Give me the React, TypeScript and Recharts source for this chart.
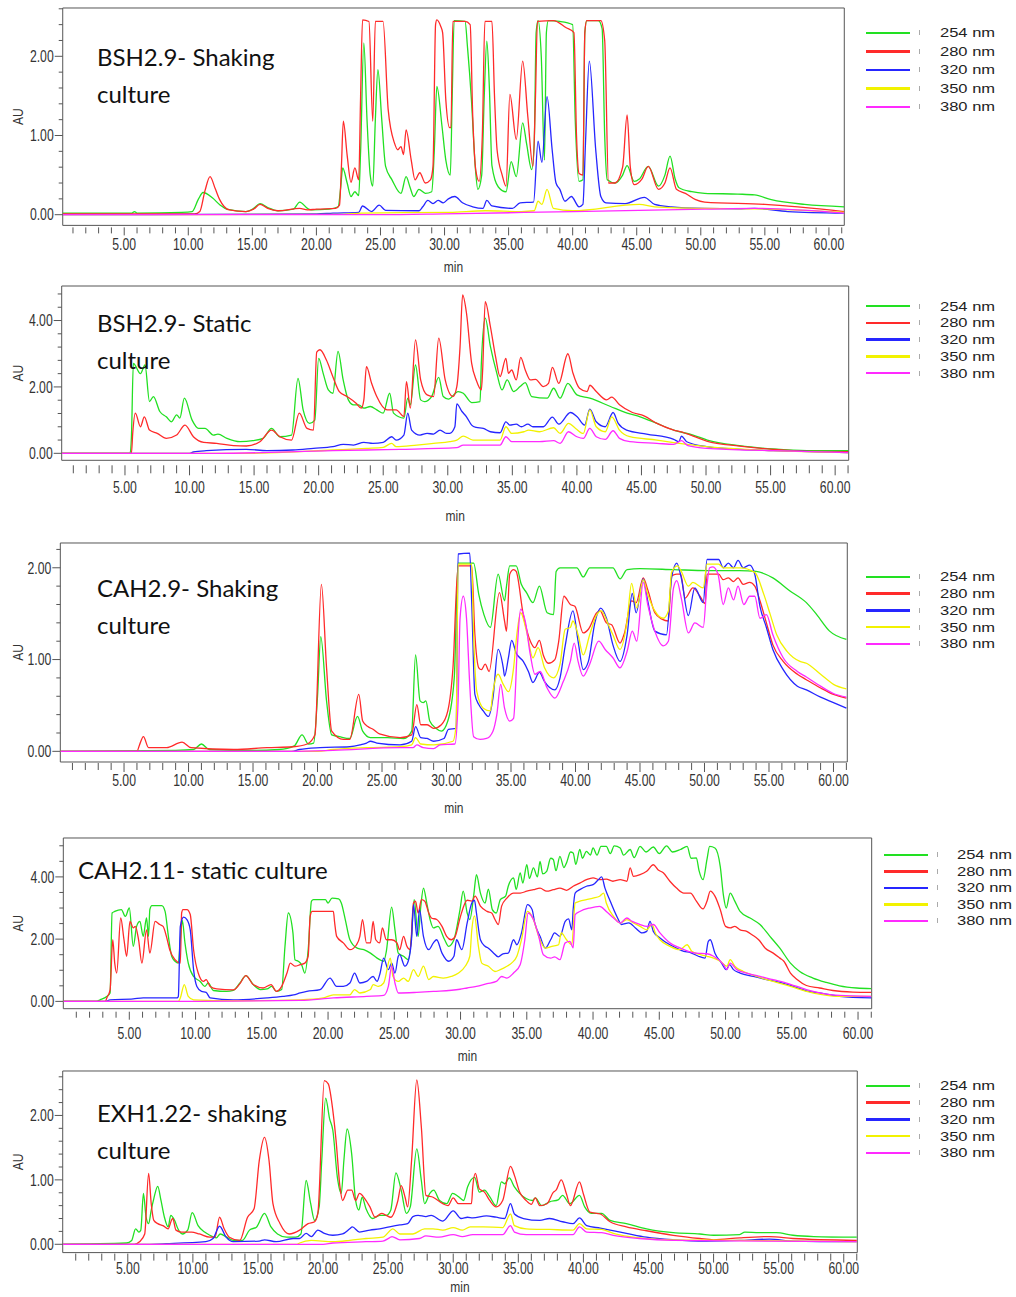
import React from 'react';
import { LineChart, Line, XAxis, YAxis, ReferenceArea, Legend } from 'recharts';

const wavelengths = ['254 nm', '280 nm', '320 nm', '350 nm', '380 nm'];
const traceColors = ['#22e022', '#ff2a2a', '#2626ff', '#f2f200', '#ff2aff'];

const minuteTicks = [
  1, 2, 3, 4, 5, 6, 7, 8, 9, 10, 11, 12, 13, 14, 15, 16, 17, 18, 19, 20, 21, 22, 23, 24, 25, 26, 27, 28, 29, 30,
  31, 32, 33, 34, 35, 36, 37, 38, 39, 40, 41, 42, 43, 44, 45, 46, 47, 48, 49, 50, 51, 52, 53, 54, 55, 56, 57, 58,
  59, 60, 61,
];
const auTicksFine = [0, 0.2, 0.4, 0.6, 0.8, 1, 1.2, 1.4, 1.6, 1.8, 2, 2.2, 2.4, 2.6];
const auTicksMid = [0, 0.2, 0.4, 0.6, 0.8, 1, 1.2, 1.4, 1.6, 1.8, 2, 2.2];
const auTicksWide = [0, 0.4, 0.8, 1.2, 1.6, 2, 2.4, 2.8, 3.2, 3.6, 4, 4.4, 4.8];
const auTicksHalf = [0, 0.5, 1, 1.5, 2, 2.5, 3, 3.5, 4, 4.5, 5];

// BSH2.9 shaking
const bshShake254 = [
  [0.2, 0.02], [5.6, 0.02], [5.8, 0.04], [6.0, 0.02], [9.5, 0.03], [10.3, 0.04], [10.8, 0.2], [11.15, 0.28],
  [11.9, 0.21], [12.5, 0.12], [13.0, 0.07], [14.5, 0.04], [15.1, 0.08], [15.6, 0.14], [16.2, 0.09], [17.0, 0.05],
  [18.2, 0.07], [18.7, 0.16], [19.3, 0.08], [19.6, 0.06], [21.0, 0.07], [21.7, 0.1], [21.9, 0.35], [22.05, 0.59],
  [22.4, 0.4], [22.7, 0.23], [23.0, 0.29], [23.3, 0.24], [23.45, 0.8], [23.7, 2.17], [23.95, 1.2], [24.2, 0.5],
  [24.4, 0.36], [24.6, 1.2], [24.8, 1.83], [25.1, 1.2], [25.4, 0.61], [25.9, 0.44], [26.6, 0.27], [27.0, 0.48],
  [27.3, 0.35], [27.6, 0.23], [28.0, 0.32], [28.5, 0.27], [29.0, 0.29], [29.2, 0.8], [29.4, 1.62], [29.8, 1.12],
  [30.1, 0.69], [30.45, 0.5], [30.6, 1.5], [30.75, 2.45], [31.6, 2.44], [31.8, 2.1], [32.1, 1.45], [32.4, 0.6],
  [32.6, 0.32], [32.9, 0.5], [33.1, 1.5], [33.3, 2.19], [33.5, 1.6], [33.7, 0.62], [34.2, 0.35], [34.8, 0.29],
  [35.2, 0.67], [35.6, 0.48], [36.1, 1.16], [36.4, 0.9], [36.8, 0.57], [37.0, 0.9], [37.15, 2.3], [37.3, 2.45],
  [37.55, 2.0], [37.8, 0.69], [37.95, 2.3], [38.1, 2.45], [39.0, 2.44], [40.0, 2.4], [40.2, 1.2], [40.5, 0.42],
  [40.8, 0.44], [40.95, 2.3], [41.1, 2.45], [42.0, 2.45], [42.3, 2.35], [42.5, 1.0], [42.7, 0.44], [43.3, 0.4],
  [43.9, 0.5], [44.25, 0.62], [44.8, 0.42], [45.2, 0.45], [45.9, 0.61], [46.7, 0.36], [47.2, 0.5], [47.6, 0.74],
  [48.0, 0.45], [48.3, 0.34], [49.3, 0.29], [50.3, 0.27], [52.9, 0.26], [54.2, 0.25], [55.5, 0.19], [58.1, 0.13],
  [61.2, 0.1],
];
const bshShake280 = [
  [0.2, 0.01], [10.5, 0.01], [10.9, 0.04], [11.3, 0.3], [11.7, 0.48], [12.1, 0.33], [12.45, 0.19], [13.2, 0.06],
  [14.5, 0.04], [15.1, 0.07], [15.6, 0.13], [16.2, 0.08], [17.0, 0.05], [18.7, 0.08], [19.3, 0.06], [20.0, 0.07],
  [21.5, 0.08], [21.8, 0.12], [21.95, 0.6], [22.1, 1.18], [22.4, 0.75], [22.7, 0.41], [23.0, 0.59], [23.3, 0.44],
  [23.45, 1.5], [23.6, 2.46], [24.1, 2.44], [24.4, 1.18], [24.6, 2.44], [25.2, 2.44], [25.6, 1.33], [26.1, 0.9],
  [26.35, 0.82], [26.6, 0.86], [26.8, 0.76], [27.0, 1.07], [27.4, 0.69], [27.7, 0.44], [28.07, 0.53], [28.5, 0.4],
  [28.9, 0.44], [29.1, 0.61], [29.3, 2.4], [29.4, 2.46], [29.7, 2.38], [29.85, 2.3], [30.1, 1.45], [30.4, 1.1],
  [30.5, 1.1], [30.65, 2.44], [31.6, 2.44], [32.0, 2.4], [32.2, 1.25], [32.45, 0.55], [32.7, 0.42], [32.95, 1.0],
  [33.15, 2.44], [33.7, 2.44], [33.9, 1.5], [34.1, 0.82], [34.5, 0.5], [34.8, 0.36], [35.1, 1.52], [35.6, 0.95],
  [36.1, 1.94], [36.5, 1.24], [36.9, 0.61], [37.1, 1.5], [37.25, 2.44], [38.5, 2.45], [39.5, 2.36], [40.1, 2.3],
  [40.3, 1.0], [40.5, 0.52], [40.8, 0.5], [40.95, 2.3], [41.1, 2.45], [42.2, 2.45], [42.5, 2.2], [42.8, 0.4],
  [43.3, 0.4], [43.9, 0.6], [44.25, 1.26], [44.5, 0.6], [44.8, 0.38], [45.4, 0.45], [45.9, 0.61], [46.7, 0.32],
  [47.2, 0.4], [47.6, 0.59], [48.1, 0.32], [48.8, 0.27], [49.6, 0.19], [50.3, 0.16], [55.0, 0.13], [61.2, 0.04],
];
const bshShake320 = [
  [0.2, 0.0], [20.0, 0.01], [21.3, 0.02], [23.3, 0.03], [23.6, 0.11], [24.3, 0.04], [24.9, 0.12], [25.4, 0.055],
  [28.0, 0.05], [28.3, 0.1], [28.7, 0.18], [29.1, 0.14], [29.5, 0.18], [29.9, 0.15], [30.3, 0.2], [30.8, 0.23],
  [31.4, 0.15], [32.2, 0.1], [33.0, 0.08], [33.3, 0.18], [33.7, 0.11], [35.3, 0.08], [35.9, 0.15], [36.95, 0.16],
  [37.3, 0.93], [37.6, 0.66], [38.0, 1.49], [38.4, 0.82], [38.7, 0.4], [39.0, 0.32], [39.4, 0.17], [39.9, 0.23],
  [40.5, 0.1], [40.8, 0.13], [41.0, 0.9], [41.3, 1.94], [41.8, 0.82], [42.2, 0.23], [42.6, 0.15], [44.1, 0.14],
  [45.6, 0.22], [46.4, 0.13], [47.7, 0.1], [50.3, 0.08], [52.9, 0.075], [54.2, 0.08], [56.8, 0.04], [61.2, 0.02],
];
const bshShake350 = [
  [0.2, 0.0], [22.0, 0.005], [23.5, 0.02], [30.4, 0.03], [33.2, 0.05], [36.0, 0.04], [37.0, 0.05], [37.3, 0.17],
  [37.6, 0.13], [38.0, 0.32], [38.5, 0.08], [40.0, 0.05], [45.2, 0.13], [46.4, 0.1], [50.3, 0.08], [54.2, 0.075],
  [61.2, 0.03],
];
const bshShake380 = [
  [0.2, 0.0], [25.0, 0.0], [30.0, 0.01], [40.0, 0.04], [50.3, 0.07], [54.2, 0.08], [61.2, 0.02],
];

// BSH2.9 static
const bshStatic254 = [
  [0.1, 0.0], [5.4, 0.0], [5.5, 0.5], [5.65, 2.71], [6.2, 2.4], [6.55, 2.66], [6.9, 1.56], [7.2, 1.71], [7.7, 1.26],
  [8.2, 1.1], [8.6, 0.95], [9.0, 1.16], [9.25, 1.06], [9.6, 1.66], [10.2, 1.0], [10.7, 0.75], [11.2, 0.75],
  [11.85, 0.55], [12.2, 0.58], [12.9, 0.45], [13.9, 0.35], [14.9, 0.38], [15.7, 0.45], [16.35, 0.75], [17.0, 0.5],
  [17.9, 0.55], [18.4, 2.26], [18.8, 1.31], [19.3, 0.9], [19.7, 1.0], [20.0, 2.86], [20.35, 2.41], [20.75, 1.91],
  [21.1, 1.81], [21.5, 3.07], [21.9, 2.21], [22.3, 1.61], [22.7, 1.46], [23.1, 1.46], [23.5, 1.36], [24.0, 1.41],
  [24.5, 1.31], [25.0, 1.21], [25.5, 1.81], [25.8, 1.21], [26.6, 1.06], [26.9, 1.66], [27.1, 1.46], [27.5, 2.66],
  [27.9, 1.61], [28.2, 1.56], [28.75, 1.71], [29.3, 2.29], [29.65, 1.71], [30.05, 1.63], [30.8, 1.86], [31.2, 1.81],
  [31.85, 1.53], [32.5, 1.56], [32.6, 2.71], [32.9, 4.07], [33.3, 3.22], [33.8, 2.41], [34.2, 1.91], [34.6, 2.21],
  [35.1, 1.86], [35.6, 2.01], [36.0, 2.13], [36.5, 1.71], [37.7, 1.66], [38.2, 1.96], [38.7, 1.66], [39.3, 2.11],
  [40.0, 1.76], [41.0, 1.66], [42.6, 1.41], [43.9, 1.21], [44.9, 1.1], [46.2, 0.9], [47.5, 0.7], [49.0, 0.55],
  [50.1, 0.4], [52.6, 0.23], [55.2, 0.13], [57.8, 0.08], [61.0, 0.08],
];
const bshStatic280 = [
  [0.1, 0.0], [5.5, 0.0], [5.6, 0.6], [5.8, 1.21], [6.2, 0.8], [6.5, 1.1], [6.9, 0.7], [7.5, 0.6], [8.2, 0.45],
  [9.0, 0.55], [9.65, 0.85], [10.3, 0.5], [11.1, 0.33], [12.1, 0.3], [13.4, 0.23], [14.4, 0.22], [15.45, 0.35],
  [16.35, 0.7], [17.0, 0.5], [17.9, 0.4], [18.5, 1.21], [19.1, 0.75], [19.6, 0.7], [19.85, 3.05], [20.1, 3.12],
  [20.6, 2.81], [21.1, 2.31], [21.6, 1.86], [22.2, 1.71], [22.9, 1.51], [23.3, 1.36], [23.5, 1.61], [23.7, 2.61],
  [24.1, 2.11], [24.5, 1.71], [25.3, 1.31], [26.0, 1.31], [26.6, 1.11], [26.8, 2.16], [27.1, 1.36], [27.5, 3.42],
  [27.9, 2.21], [28.4, 1.76], [28.9, 1.71], [29.3, 3.47], [29.8, 2.21], [30.4, 1.71], [30.7, 2.01], [30.95, 3.2],
  [31.15, 4.77], [31.45, 4.22], [31.85, 2.71], [32.2, 2.21], [32.6, 1.91], [32.7, 2.5], [32.9, 4.57], [33.3, 3.82],
  [33.7, 2.91], [34.05, 2.31], [34.5, 2.86], [34.7, 2.41], [34.95, 2.51], [35.3, 2.21], [35.65, 2.89], [36.0, 2.51],
  [36.4, 2.21], [36.8, 2.23], [37.4, 2.01], [37.8, 2.11], [38.1, 2.59], [38.6, 2.11], [39.3, 3.0], [39.7, 2.41],
  [40.2, 1.96], [40.8, 1.86], [41.0, 2.05], [41.5, 1.86], [42.3, 1.61], [42.7, 1.69], [43.3, 1.46], [44.3, 1.23],
  [45.2, 1.13], [46.2, 0.9], [47.5, 0.7], [48.0, 0.65], [49.0, 0.52], [50.05, 0.37], [52.6, 0.22], [55.2, 0.12],
  [57.8, 0.06], [61.0, 0.05],
];
const bshStatic320 = [
  [0.1, 0.0], [10.0, 0.0], [10.3, 0.04], [11.3, 0.08], [14.4, 0.12], [16.0, 0.08], [18.0, 0.1], [19.6, 0.15],
  [21.1, 0.2], [21.9, 0.27], [22.7, 0.25], [23.5, 0.33], [24.2, 0.3], [25.0, 0.33], [25.65, 0.5], [26.0, 0.4],
  [26.6, 0.55], [26.9, 1.21], [27.2, 0.7], [27.85, 0.55], [28.4, 0.6], [28.9, 0.58], [29.4, 0.7], [29.9, 0.6],
  [30.15, 0.6], [30.55, 0.8], [30.7, 1.49], [31.1, 1.26], [31.45, 1.1], [31.85, 0.85], [32.2, 0.78], [32.75, 0.75],
  [33.3, 0.65], [34.05, 0.62], [34.5, 0.95], [34.8, 0.85], [35.3, 0.88], [35.7, 0.8], [36.2, 0.88], [36.6, 0.8],
  [37.4, 0.8], [38.1, 1.09], [38.6, 0.88], [39.5, 1.23], [40.0, 1.11], [40.6, 0.85], [41.0, 1.33], [41.5, 0.95],
  [42.2, 0.8], [42.8, 1.23], [43.2, 0.9], [43.85, 0.7], [45.4, 0.58], [47.5, 0.42], [47.9, 0.35], [48.1, 0.52],
  [48.5, 0.35], [50.05, 0.2], [52.6, 0.12], [55.2, 0.08], [61.0, 0.02],
];
const bshStatic350 = [
  [0.1, 0.0], [15.0, 0.0], [18.5, 0.05], [21.1, 0.1], [23.7, 0.15], [25.0, 0.18], [25.65, 0.3], [26.0, 0.2],
  [27.6, 0.25], [28.9, 0.3], [30.15, 0.35], [30.7, 0.4], [31.2, 0.52], [31.95, 0.4], [34.05, 0.4], [34.5, 0.8],
  [34.95, 0.6], [35.9, 0.65], [36.25, 0.7], [37.1, 0.65], [38.2, 0.77], [38.7, 0.6], [39.35, 0.9], [39.9, 0.75],
  [40.5, 0.6], [41.0, 1.31], [41.5, 0.8], [42.2, 0.65], [42.7, 1.1], [43.3, 0.7], [44.1, 0.5], [46.2, 0.4],
  [47.5, 0.32], [50.05, 0.2], [55.2, 0.08], [61.0, 0.02],
];
const bshStatic380 = [
  [0.1, 0.0], [12.0, 0.0], [21.1, 0.08], [23.7, 0.1], [26.3, 0.12], [30.7, 0.17], [31.2, 0.25], [34.05, 0.25],
  [34.5, 0.5], [34.95, 0.35], [37.1, 0.35], [38.2, 0.38], [38.7, 0.3], [39.35, 0.65], [40.0, 0.5], [40.5, 0.45],
  [41.0, 0.75], [41.5, 0.5], [42.2, 0.42], [42.8, 0.68], [43.3, 0.45], [44.1, 0.35], [46.2, 0.3], [47.5, 0.27],
  [48.1, 0.38], [48.6, 0.23], [50.05, 0.15], [55.2, 0.08], [61.0, 0.02],
];

// CAH2.9 shaking
const cahShake254 = [
  [0.06, 0.0], [9.0, 0.01], [10.4, 0.02], [11.0, 0.08], [11.6, 0.02], [15.0, 0.01], [17.0, 0.02], [18.2, 0.06],
  [18.8, 0.18], [19.3, 0.08], [19.7, 0.09], [20.0, 0.6], [20.25, 1.25], [20.7, 0.55], [21.1, 0.18], [21.7, 0.16],
  [22.5, 0.14], [23.1, 0.38], [23.5, 0.22], [24.1, 0.15], [25.4, 0.15], [26.7, 0.14], [27.3, 0.22], [27.6, 1.05],
  [27.95, 0.55], [28.2, 0.53], [28.4, 0.55], [28.7, 0.33], [29.2, 0.25], [29.6, 0.22], [30.1, 0.33], [30.6, 0.8],
  [30.9, 2.05], [32.1, 2.05], [32.5, 1.71], [32.9, 1.49], [33.4, 1.35], [34.0, 1.93], [34.5, 1.64], [34.65, 1.8],
  [34.9, 2.02], [35.4, 2.02], [35.8, 1.82], [36.2, 1.73], [36.7, 1.62], [37.2, 1.8], [37.8, 1.51], [38.3, 1.49],
  [38.5, 1.96], [38.8, 2.0], [40.1, 2.0], [40.6, 1.9], [41.1, 2.0], [42.9, 2.0], [43.45, 1.88], [44.0, 1.98],
  [45.0, 1.99], [47.6, 1.98], [50.2, 1.97], [52.7, 1.97], [54.0, 1.96], [55.3, 1.89], [56.6, 1.75], [57.9, 1.62],
  [58.7, 1.49], [59.7, 1.31], [61.0, 1.22],
];
const cahShake280 = [
  [0.06, 0.0], [6.0, 0.0], [6.2, 0.07], [6.5, 0.16], [6.9, 0.04], [8.3, 0.04], [9.5, 0.1], [10.2, 0.04],
  [13.5, 0.02], [16.1, 0.04], [18.1, 0.05], [19.2, 0.08], [19.8, 0.18], [20.3, 1.82], [20.7, 0.91], [21.1, 0.22],
  [22.0, 0.13], [22.5, 0.13], [23.2, 0.62], [23.5, 0.33], [23.9, 0.27], [24.3, 0.24], [24.8, 0.19], [26.4, 0.15],
  [27.3, 0.18], [27.7, 0.51], [28.0, 0.29], [28.5, 0.29], [29.0, 0.25], [29.6, 0.29], [30.1, 0.44], [30.5, 0.91],
  [30.9, 2.02], [31.95, 2.02], [32.2, 1.27], [32.5, 0.91], [32.7, 0.89], [33.0, 0.95], [33.3, 0.87], [34.1, 1.73],
  [34.5, 1.42], [34.65, 1.31], [34.9, 1.93], [35.2, 1.98], [35.4, 1.96], [35.95, 1.49], [36.5, 1.2], [36.85, 1.13],
  [37.2, 1.21], [37.5, 1.05], [37.9, 0.96], [38.4, 1.0], [38.7, 1.2], [39.1, 1.69], [39.6, 1.6], [39.95, 1.58],
  [40.6, 1.29], [41.0, 1.33], [41.65, 1.51], [41.9, 1.53], [42.4, 1.4], [42.8, 1.38], [43.45, 1.18], [43.8, 1.29],
  [44.35, 1.64], [44.7, 1.62], [45.25, 1.89], [45.6, 1.76], [46.15, 1.51], [46.7, 1.44], [47.2, 1.42], [47.45, 1.91],
  [47.85, 1.93], [48.15, 1.93], [48.5, 1.67], [49.1, 1.78], [49.65, 1.69], [50.05, 1.61], [50.2, 1.93], [51.1, 1.93],
  [51.45, 1.87], [51.85, 1.89], [52.25, 1.85], [52.6, 1.89], [53.0, 1.82], [53.5, 1.84], [53.9, 1.8], [54.3, 1.64],
  [54.8, 1.4], [55.3, 1.16], [56.1, 0.98], [57.2, 0.84], [57.9, 0.78], [59.0, 0.69], [60.0, 0.62], [61.0, 0.58],
];
const cahShake320 = [
  [0.06, 0.0], [18.0, 0.0], [18.6, 0.02], [20.2, 0.04], [22.5, 0.05], [23.3, 0.07], [23.8, 0.09], [24.1, 0.11],
  [24.6, 0.09], [26.4, 0.07], [27.3, 0.11], [27.6, 0.27], [28.0, 0.15], [28.5, 0.14], [29.0, 0.11], [29.8, 0.14],
  [30.15, 0.24], [30.75, 0.25], [30.9, 2.15], [31.8, 2.16], [31.95, 1.64], [32.2, 0.62], [32.5, 0.51], [32.85, 0.44],
  [33.25, 0.38], [33.6, 0.58], [34.0, 1.11], [34.4, 0.91], [34.5, 0.82], [34.8, 1.02], [35.05, 1.21], [35.4, 1.07],
  [35.95, 0.98], [36.35, 0.87], [36.7, 0.75], [37.2, 0.86], [37.6, 0.76], [38.4, 0.67], [38.8, 0.8], [39.2, 1.15],
  [39.8, 1.53], [40.2, 1.2], [40.6, 0.89], [41.0, 0.98], [41.5, 1.4], [41.95, 1.56], [42.4, 1.45], [42.9, 1.16],
  [43.45, 0.98], [44.0, 1.27], [44.4, 1.72], [44.7, 1.51], [45.25, 1.88], [45.6, 1.64], [46.15, 1.31], [47.05, 1.27],
  [47.45, 1.89], [47.85, 2.05], [48.2, 1.89], [48.75, 1.48], [49.25, 1.78], [49.9, 1.62], [50.2, 2.09], [51.1, 2.09],
  [51.45, 2.0], [51.85, 2.05], [52.25, 2.0], [52.6, 2.08], [53.0, 2.0], [53.5, 2.03], [53.9, 1.93], [54.3, 1.58],
  [54.8, 1.35], [55.3, 1.11], [56.1, 0.89], [57.2, 0.71], [57.9, 0.67], [59.0, 0.59], [60.0, 0.53], [61.0, 0.47],
];
const cahShake350 = [
  [0.06, 0.0], [20.0, 0.0], [21.2, 0.02], [23.8, 0.04], [26.4, 0.05], [27.3, 0.07], [27.6, 0.15], [28.0, 0.08],
  [29.0, 0.07], [30.5, 0.11], [30.75, 0.3], [30.9, 2.04], [31.95, 2.04], [32.1, 1.27], [32.35, 0.65], [32.85, 0.47],
  [33.4, 0.44], [33.6, 0.65], [34.0, 0.84], [34.4, 0.73], [34.8, 0.65], [35.2, 0.91], [35.45, 1.27], [35.75, 1.51],
  [36.2, 1.31], [36.7, 1.02], [37.1, 1.13], [37.6, 0.91], [38.3, 0.8], [38.8, 0.95], [39.2, 1.33], [39.6, 1.35],
  [39.8, 1.42], [40.2, 1.27], [40.6, 1.05], [41.1, 1.27], [41.65, 1.49], [42.0, 1.53], [42.55, 1.38], [42.9, 1.27],
  [43.45, 1.11], [44.0, 1.42], [44.35, 1.83], [44.75, 1.56], [45.25, 1.87], [45.6, 1.71], [46.15, 1.53], [46.8, 1.45],
  [47.2, 1.53], [47.45, 1.95], [47.9, 2.02], [48.2, 1.96], [48.75, 1.8], [49.1, 1.84], [49.9, 1.78], [50.2, 2.04],
  [51.1, 2.04], [51.45, 2.0], [52.75, 2.0], [53.9, 1.95], [54.6, 1.71], [55.1, 1.49], [55.6, 1.27], [56.4, 1.09],
  [57.4, 0.98], [57.9, 0.96], [59.0, 0.84], [60.0, 0.73], [61.0, 0.68],
];
const cahShake380 = [
  [0.06, 0.0], [18.0, 0.0], [21.2, 0.01], [26.4, 0.04], [27.4, 0.04], [27.7, 0.07], [28.2, 0.04], [29.0, 0.03],
  [29.5, 0.07], [30.65, 0.08], [30.9, 0.55], [31.05, 1.45], [31.3, 1.69], [31.55, 1.45], [31.8, 0.73], [32.1, 0.16],
  [32.6, 0.13], [33.1, 0.14], [33.6, 0.22], [33.9, 0.4], [34.2, 0.73], [34.5, 0.47], [34.9, 0.33], [35.2, 0.36],
  [35.5, 1.16], [35.75, 1.55], [36.1, 1.42], [36.5, 1.05], [36.85, 0.84], [37.25, 0.87], [37.8, 0.69], [38.4, 0.58],
  [39.05, 0.76], [39.6, 0.98], [39.9, 1.18], [40.2, 0.98], [40.6, 0.82], [41.1, 0.95], [41.8, 1.2], [42.3, 1.11],
  [42.9, 1.02], [43.45, 0.91], [44.0, 1.09], [44.4, 1.31], [44.75, 1.2], [45.25, 1.84], [45.6, 1.6], [46.15, 1.31],
  [46.8, 1.15], [47.2, 1.2], [47.6, 1.78], [47.85, 1.86], [48.2, 1.67], [48.75, 1.29], [49.25, 1.4], [49.9, 1.35],
  [50.2, 1.82], [50.4, 2.0], [50.65, 2.01], [51.05, 1.93], [51.45, 1.6], [51.85, 1.78], [52.25, 1.65], [52.6, 1.8],
  [53.05, 1.6], [53.5, 1.69], [53.9, 1.69], [54.3, 1.45], [54.8, 1.49], [55.3, 1.27], [56.1, 1.02], [57.2, 0.87],
  [57.9, 0.81], [59.0, 0.71], [60.0, 0.63], [61.0, 0.59],
];

// CAH2.11 static
const cahStatic254 = [
  [0.02, 0.0], [2.5, 0.0], [2.8, 0.05], [3.3, 0.16], [3.55, 0.27], [3.7, 2.84], [3.9, 2.89], [4.4, 2.95], [4.7, 2.73],
  [5.0, 3.0], [5.3, 1.77], [5.55, 2.41], [5.8, 2.57], [6.05, 2.09], [6.3, 2.68], [6.45, 2.09], [6.55, 2.95],
  [6.7, 3.08], [7.45, 3.08], [7.7, 2.89], [7.95, 2.09], [8.2, 1.45], [8.45, 1.29], [8.7, 1.23], [8.85, 1.98],
  [9.0, 2.6], [9.2, 1.88], [9.45, 1.23], [9.85, 0.8], [10.35, 0.64], [10.7, 0.48], [10.95, 0.59], [11.35, 0.35],
  [12.35, 0.32], [12.85, 0.35], [13.35, 0.59], [13.8, 0.83], [14.35, 0.54], [14.9, 0.38], [15.4, 0.4], [15.75, 0.48],
  [16.1, 0.32], [16.5, 0.38], [16.75, 1.77], [17.0, 2.84], [17.35, 2.2], [17.5, 1.34], [17.75, 1.29], [18.0, 1.18],
  [18.25, 0.91], [18.5, 1.66], [18.75, 3.22], [18.9, 3.27], [19.8, 3.27], [20.0, 3.16], [20.3, 3.32], [20.8, 3.29],
  [21.0, 3.16], [21.3, 2.63], [21.65, 1.98], [22.2, 1.71], [22.7, 1.66], [23.2, 1.55], [23.7, 1.39], [24.2, 1.29],
  [24.4, 1.61], [24.8, 3.03], [25.05, 2.3], [25.3, 1.55], [25.7, 1.45], [26.05, 1.34], [26.3, 2.09], [26.5, 3.27],
  [26.8, 2.09], [27.0, 3.05], [27.2, 3.64], [27.45, 3.16], [27.7, 2.63], [27.95, 2.36], [28.3, 2.41], [28.8, 1.98],
  [29.1, 1.77], [29.5, 1.98], [29.96, 2.95], [30.2, 3.54], [30.5, 2.84], [30.7, 2.63], [31.0, 3.43], [31.2, 4.07],
  [31.5, 3.48], [31.85, 3.16], [32.1, 3.61], [32.4, 2.95], [32.7, 2.84], [33.0, 3.27], [33.4, 3.38], [33.6, 3.7],
  [34.0, 3.97], [34.2, 3.6], [34.5, 4.13], [34.7, 3.8], [35.0, 4.39], [35.2, 3.95], [35.5, 4.29], [35.8, 4.0],
  [36.0, 4.5], [36.2, 4.1], [36.5, 4.18], [36.8, 4.6], [37.0, 4.56], [37.2, 4.2], [37.5, 4.66], [37.8, 4.3],
  [38.0, 4.45], [38.3, 4.8], [38.5, 4.77], [38.7, 4.4], [39.0, 4.88], [39.2, 4.6], [39.5, 4.82], [39.8, 4.7],
  [40.0, 4.93], [40.3, 4.7], [40.6, 4.98], [41.0, 4.98], [41.3, 4.75], [41.6, 5.0], [42.05, 4.93], [42.3, 4.7],
  [42.8, 4.88], [43.1, 4.62], [43.55, 4.98], [44.0, 4.8], [44.55, 4.96], [45.0, 4.75], [45.55, 5.0], [46.0, 4.8],
  [46.6, 4.88], [47.1, 4.98], [47.4, 4.6], [47.8, 4.61], [48.0, 4.2], [48.3, 3.91], [48.6, 4.56], [48.8, 4.98],
  [49.2, 4.93], [49.6, 4.34], [49.85, 3.38], [50.05, 3.0], [50.35, 3.48], [50.7, 3.22], [51.1, 2.89], [51.85, 2.68],
  [52.6, 2.47], [53.35, 2.09], [54.1, 1.71], [54.9, 1.23], [55.6, 0.96], [56.6, 0.75], [57.6, 0.61], [58.6, 0.5],
  [59.9, 0.43], [61.0, 0.41],
];
const cahStatic280 = [
  [0.02, 0.0], [3.2, 0.0], [3.3, 0.11], [3.55, 0.37], [3.75, 1.98], [3.9, 1.23], [4.05, 0.91], [4.35, 2.68],
  [4.6, 1.98], [4.8, 1.45], [5.05, 2.57], [5.3, 2.36], [5.45, 2.41], [5.7, 1.98], [5.95, 1.23], [6.3, 2.3],
  [6.55, 1.55], [6.95, 2.57], [7.3, 2.47], [7.55, 2.41], [7.8, 2.09], [8.05, 1.66], [8.45, 1.34], [8.85, 1.23],
  [8.95, 2.84], [9.05, 2.95], [9.35, 2.95], [9.6, 2.79], [9.85, 1.66], [10.2, 0.91], [10.6, 0.64], [10.8, 0.7],
  [11.1, 0.48], [11.6, 0.4], [12.85, 0.37], [13.35, 0.57], [13.8, 0.83], [14.35, 0.54], [15.1, 0.43], [15.7, 0.54],
  [16.1, 0.32], [16.5, 0.48], [16.9, 0.91], [17.15, 1.23], [17.5, 1.13], [17.9, 1.18], [18.25, 1.23], [18.5, 1.45],
  [18.65, 2.73], [18.8, 2.89], [20.4, 2.89], [20.5, 2.52], [20.65, 2.09], [21.15, 1.88], [21.65, 1.66], [22.15, 1.82],
  [22.4, 2.09], [22.6, 2.63], [22.9, 1.88], [23.2, 1.88], [23.4, 2.57], [23.6, 1.98], [23.9, 1.88], [24.1, 2.36],
  [24.4, 1.98], [24.8, 1.98], [25.2, 1.88], [25.4, 1.66], [25.7, 2.09], [25.95, 1.77], [26.2, 1.66], [26.45, 3.16],
  [26.6, 3.22], [26.8, 2.84], [27.05, 3.27], [27.3, 3.22], [27.6, 2.84], [27.8, 2.68], [28.2, 2.63], [28.6, 2.41],
  [28.95, 2.09], [29.3, 1.98], [29.6, 2.09], [29.96, 2.68], [30.5, 3.25], [30.85, 3.22], [31.1, 3.38], [31.5, 3.06],
  [32.0, 2.89], [32.35, 2.84], [32.6, 2.63], [32.85, 2.47], [33.1, 3.06], [33.5, 3.32], [34.0, 3.48], [34.5, 3.48],
  [35.0, 3.54], [35.5, 3.59], [36.0, 3.64], [36.5, 3.54], [37.0, 3.59], [37.5, 3.64], [38.0, 3.57], [38.5, 3.7],
  [39.0, 3.8], [39.5, 3.91], [40.0, 3.97], [40.5, 3.91], [41.0, 3.93], [41.5, 3.86], [42.05, 3.91], [42.55, 3.86],
  [42.8, 4.29], [43.05, 4.02], [43.55, 4.07], [44.05, 4.18], [44.55, 4.39], [44.9, 4.23], [45.3, 4.13], [45.8, 3.86],
  [46.3, 3.64], [46.85, 3.48], [47.35, 3.48], [47.8, 3.22], [48.3, 2.97], [48.6, 3.22], [48.85, 3.54], [49.2, 3.38],
  [49.6, 2.95], [50.0, 2.41], [50.35, 2.36], [50.7, 2.41], [51.1, 2.3], [51.6, 2.25], [52.0, 2.14], [52.5, 1.98],
  [53.0, 1.71], [53.6, 1.55], [54.1, 1.39], [54.4, 1.29], [54.9, 0.91], [55.4, 0.7], [56.1, 0.51], [57.1, 0.43],
  [58.1, 0.35], [59.6, 0.3], [61.0, 0.29],
];
const cahStatic320 = [
  [0.02, 0.0], [3.2, 0.0], [3.55, 0.05], [5.3, 0.08], [6.05, 0.11], [8.6, 0.11], [8.7, 0.16], [8.85, 2.41],
  [9.1, 2.71], [9.35, 2.63], [9.6, 2.3], [9.85, 1.02], [10.1, 0.48], [10.45, 0.32], [10.8, 0.29], [11.1, 0.11],
  [12.85, 0.05], [15.4, 0.11], [16.6, 0.16], [17.4, 0.21], [17.9, 0.27], [18.4, 0.32], [19.4, 0.38], [20.15, 0.75],
  [20.65, 0.48], [21.15, 0.48], [21.65, 0.59], [22.0, 0.91], [22.4, 0.59], [22.9, 0.64], [23.4, 0.8], [23.7, 0.64],
  [23.9, 0.86], [24.2, 1.39], [24.55, 1.02], [24.8, 1.23], [25.05, 0.91], [25.3, 1.45], [25.4, 1.5], [25.8, 1.13],
  [26.05, 1.29], [26.3, 1.98], [26.45, 3.11], [26.7, 2.09], [26.9, 2.95], [27.2, 2.09], [27.6, 1.66], [27.95, 1.88],
  [28.2, 1.98], [28.6, 1.55], [29.1, 1.29], [29.5, 1.45], [29.7, 1.98], [30.1, 1.66], [30.5, 2.52], [30.85, 3.16],
  [31.05, 3.25], [31.2, 2.84], [31.5, 1.98], [31.85, 1.77], [32.1, 1.71], [32.5, 1.55], [32.85, 1.43], [33.2, 1.53],
  [33.6, 1.55], [34.0, 1.98], [34.25, 1.82], [34.6, 2.2], [35.05, 3.11], [35.4, 2.95], [35.6, 2.52], [36.0, 2.09],
  [36.4, 1.71], [36.8, 1.98], [37.1, 2.2], [37.5, 2.09], [37.9, 2.57], [38.15, 2.65], [38.4, 2.3], [38.5, 2.95],
  [38.65, 3.48], [39.0, 3.59], [39.5, 3.7], [40.0, 3.75], [40.4, 3.91], [40.65, 4.0], [40.9, 3.64], [41.3, 3.22],
  [41.8, 2.73], [42.15, 2.47], [42.7, 2.52], [43.2, 2.36], [43.7, 2.2], [44.05, 2.25], [44.3, 2.57], [44.55, 2.25],
  [45.05, 2.04], [45.8, 1.82], [46.3, 1.71], [46.85, 1.61], [47.35, 1.57], [47.95, 1.45], [48.45, 1.39], [48.7, 1.93],
  [48.85, 1.98], [49.2, 1.55], [49.7, 1.23], [50.05, 1.02], [50.3, 1.18], [50.6, 1.02], [51.1, 0.91], [52.1, 0.8],
  [53.1, 0.7], [54.1, 0.61], [55.1, 0.48], [56.1, 0.34], [57.4, 0.25], [58.6, 0.16], [61.0, 0.11],
];
const cahStatic350 = [
  [0.02, 0.0], [8.7, 0.0], [8.85, 0.11], [9.15, 0.54], [9.45, 0.16], [9.85, 0.05], [12.85, 0.02], [17.9, 0.05],
  [19.65, 0.11], [20.4, 0.21], [21.65, 0.21], [22.0, 0.38], [22.4, 0.27], [23.2, 0.38], [23.4, 0.54], [23.8, 0.48],
  [24.2, 0.59], [24.7, 1.39], [24.9, 0.8], [25.3, 0.64], [25.7, 0.75], [26.05, 0.64], [26.45, 1.02], [26.8, 0.8],
  [27.2, 1.13], [27.6, 0.7], [27.95, 0.8], [28.7, 0.75], [29.3, 0.8], [29.85, 0.91], [30.35, 1.13], [30.7, 1.45],
  [30.85, 2.3], [31.05, 2.75], [31.35, 1.77], [31.6, 1.23], [32.1, 1.13], [32.6, 0.96], [33.0, 1.02], [33.5, 1.13],
  [33.85, 1.23], [34.25, 1.45], [34.6, 1.98], [35.05, 2.89], [35.5, 2.63], [35.9, 2.09], [36.4, 1.71], [36.9, 1.77],
  [37.4, 1.82], [37.6, 2.2], [38.0, 1.98], [38.4, 1.82], [38.65, 3.16], [39.0, 3.22], [39.5, 3.27], [40.0, 3.32],
  [40.5, 3.38], [40.8, 3.48], [41.0, 3.16], [41.55, 2.73], [42.05, 2.52], [42.55, 2.63], [43.05, 2.52], [43.55, 2.41],
  [44.05, 2.3], [44.45, 2.47], [44.7, 2.2], [45.05, 1.98], [45.8, 1.77], [46.55, 1.66], [47.1, 1.82], [47.45, 1.61],
  [48.1, 1.5], [48.6, 1.45], [49.1, 1.39], [49.6, 1.29], [50.1, 1.13], [50.35, 1.34], [50.7, 1.13], [51.35, 0.96],
  [52.35, 0.8], [53.6, 0.64], [54.9, 0.48], [56.1, 0.32], [57.4, 0.21], [58.6, 0.16], [61.0, 0.16],
];
const cahStatic380 = [
  [0.02, 0.0], [9.0, 0.0], [10.3, 0.0], [17.9, 0.03], [20.4, 0.11], [22.9, 0.16], [24.2, 0.19], [24.55, 0.48],
  [24.8, 1.13], [25.05, 0.59], [25.3, 0.27], [26.7, 0.29], [27.95, 0.32], [29.96, 0.39], [30.5, 0.43], [31.2, 0.48],
  [32.0, 0.57], [32.7, 0.64], [33.1, 0.8], [33.5, 0.75], [34.0, 0.91], [34.5, 1.18], [34.85, 1.98], [35.1, 2.84],
  [35.5, 2.63], [35.9, 2.09], [36.25, 1.5], [36.8, 1.39], [37.1, 1.43], [37.5, 1.34], [37.9, 1.88], [38.25, 1.93],
  [38.5, 1.72], [38.65, 2.79], [39.0, 2.89], [39.75, 3.0], [40.5, 3.05], [41.0, 2.89], [41.55, 2.68], [42.05, 2.52],
  [42.55, 2.68], [42.95, 2.57], [43.55, 2.47], [44.05, 2.41], [44.55, 2.47], [45.05, 2.2], [45.8, 1.88], [46.55, 1.72],
  [47.2, 1.61], [47.8, 1.55], [48.6, 1.53], [49.1, 1.45], [49.85, 1.18], [50.1, 1.02], [50.35, 1.23], [50.85, 1.02],
  [51.6, 0.91], [52.6, 0.8], [53.6, 0.7], [54.6, 0.59], [56.1, 0.38], [57.4, 0.25], [58.6, 0.19], [61.0, 0.16],
];

// EXH1.22 shaking
const exhShake254 = [
  [0.0, 0.0], [4.9, 0.02], [5.3, 0.06], [5.6, 0.24], [5.85, 0.19], [6.0, 0.22], [6.2, 0.79], [6.4, 0.43], [6.6, 0.32],
  [6.8, 0.53], [7.0, 0.71], [7.3, 0.9], [7.55, 0.68], [7.8, 0.43], [8.1, 0.27], [8.3, 0.45], [8.6, 0.37], [8.85, 0.24],
  [9.2, 0.16], [9.6, 0.22], [9.95, 0.49], [10.4, 0.29], [10.9, 0.19], [11.3, 0.14], [11.8, 0.1], [12.1, 0.16],
  [12.6, 0.11], [13.1, 0.06], [13.8, 0.06], [14.35, 0.22], [14.9, 0.27], [15.5, 0.48], [16.0, 0.27], [16.5, 0.16],
  [17.2, 0.11], [17.9, 0.11], [18.3, 0.16], [18.7, 0.99], [19.05, 0.63], [19.35, 0.37], [19.7, 0.58], [19.9, 1.3],
  [20.2, 2.27], [20.5, 1.95], [20.75, 1.77], [21.1, 1.04], [21.4, 0.79], [21.6, 1.3], [21.85, 1.79], [22.2, 1.4],
  [22.5, 0.68], [22.75, 0.53], [23.0, 0.73], [23.3, 0.55], [23.8, 0.4], [24.35, 0.45], [24.85, 0.45], [25.2, 0.53],
  [25.6, 1.11], [26.0, 0.84], [26.4, 0.48], [26.7, 0.58], [27.2, 1.48], [27.55, 0.99], [27.8, 0.63], [28.2, 0.79],
  [28.5, 0.84], [28.95, 0.68], [29.5, 0.63], [29.95, 0.79], [30.4, 0.74], [30.8, 0.68], [31.1, 0.89], [31.65, 1.04],
  [32.0, 0.81], [32.4, 0.84], [32.8, 0.74], [33.3, 0.6], [33.7, 0.97], [33.95, 0.94], [34.3, 1.03], [34.7, 0.89],
  [35.1, 0.79], [35.6, 0.71], [36.1, 0.68], [36.3, 0.72], [36.8, 0.6], [37.4, 0.66], [38.06, 0.69], [38.4, 0.76],
  [38.95, 0.63], [39.7, 0.76], [40.1, 0.58], [40.6, 0.48], [41.4, 0.48], [42.05, 0.37], [43.3, 0.32], [44.85, 0.24],
  [46.9, 0.18], [48.95, 0.16], [50.0, 0.14], [52.0, 0.15], [52.4, 0.19], [53.5, 0.18], [54.8, 0.18], [56.1, 0.14],
  [57.7, 0.12], [61.0, 0.11],
];
const exhShake280 = [
  [0.0, 0.0], [5.5, 0.0], [5.9, 0.04], [6.3, 0.16], [6.6, 1.1], [6.8, 0.63], [7.0, 0.37], [7.3, 0.32], [7.7, 0.29],
  [8.1, 0.24], [8.35, 0.37], [8.45, 0.4], [8.7, 0.22], [9.1, 0.19], [9.9, 0.19], [10.5, 0.16], [11.3, 0.11],
  [11.7, 0.11], [12.05, 0.42], [12.4, 0.24], [12.8, 0.11], [13.6, 0.06], [14.2, 0.42], [14.7, 0.55], [15.1, 1.3],
  [15.5, 1.66], [15.85, 1.3], [16.15, 0.63], [16.7, 0.32], [17.4, 0.16], [18.2, 0.22], [18.85, 0.32], [19.35, 0.35],
  [19.6, 0.48], [20.1, 2.54], [20.4, 2.49], [20.75, 2.08], [21.0, 1.61], [21.3, 0.89], [21.5, 0.68], [21.9, 0.84],
  [22.2, 0.84], [22.5, 0.68], [22.8, 0.79], [23.2, 0.71], [23.6, 0.58], [24.0, 0.42], [24.5, 0.48], [24.85, 0.45],
  [25.2, 0.42], [25.75, 0.68], [26.0, 0.91], [26.3, 0.73], [26.5, 0.58], [26.8, 1.3], [27.2, 2.55], [27.55, 1.82],
  [27.9, 0.76], [28.45, 0.73], [29.2, 0.63], [29.6, 0.6], [30.0, 0.72], [30.4, 0.63], [31.4, 0.63], [31.5, 0.89],
  [31.7, 1.1], [32.0, 0.86], [32.4, 0.81], [32.8, 0.68], [33.3, 0.58], [33.8, 0.68], [34.4, 1.21], [34.7, 1.07],
  [35.1, 0.81], [35.6, 0.68], [36.0, 0.62], [36.3, 0.72], [36.65, 0.6], [37.2, 0.63], [37.7, 0.81], [37.9, 0.84],
  [38.3, 1.0], [38.7, 0.78], [39.0, 0.6], [39.7, 0.97], [40.0, 0.78], [40.5, 0.5], [41.3, 0.47], [42.05, 0.35],
  [43.3, 0.27], [44.85, 0.21], [46.9, 0.14], [48.95, 0.09], [50.0, 0.07], [52.0, 0.1], [54.3, 0.12], [56.1, 0.09],
  [61.0, 0.06],
];
const exhShake320 = [
  [0.0, 0.0], [6.0, 0.0], [7.95, 0.01], [11.0, 0.04], [11.55, 0.09], [12.05, 0.28], [12.55, 0.11], [13.1, 0.04],
  [15.1, 0.05], [15.5, 0.07], [16.4, 0.04], [17.7, 0.09], [18.2, 0.09], [18.7, 0.17], [19.1, 0.12], [19.6, 0.22],
  [20.1, 0.17], [20.75, 0.14], [21.5, 0.16], [22.05, 0.24], [22.25, 0.27], [22.8, 0.19], [23.6, 0.22], [24.35, 0.24],
  [25.1, 0.27], [25.9, 0.3], [26.5, 0.32], [26.9, 0.43], [27.3, 0.45], [27.9, 0.43], [28.3, 0.45], [29.2, 0.36],
  [30.0, 0.52], [30.6, 0.4], [31.1, 0.42], [31.5, 0.41], [32.55, 0.44], [33.3, 0.42], [33.95, 0.4], [34.4, 0.63],
  [34.7, 0.47], [35.4, 0.4], [36.65, 0.37], [37.4, 0.4], [38.4, 0.35], [39.2, 0.32], [39.7, 0.41], [40.25, 0.29],
  [41.3, 0.25], [42.05, 0.22], [43.3, 0.17], [44.85, 0.11], [46.9, 0.07], [49.45, 0.05], [52.0, 0.06], [54.3, 0.08],
  [56.1, 0.05], [61.0, 0.04],
];
const exhShake350 = [
  [0.0, 0.0], [18.0, 0.0], [18.2, 0.02], [19.1, 0.06], [20.75, 0.04], [22.05, 0.06], [23.3, 0.09], [24.6, 0.11],
  [25.25, 0.23], [25.35, 0.24], [25.9, 0.16], [26.9, 0.16], [27.8, 0.24], [28.45, 0.24], [29.2, 0.22], [30.0, 0.26],
  [30.7, 0.22], [31.3, 0.27], [32.3, 0.27], [33.8, 0.26], [34.4, 0.47], [34.7, 0.29], [35.6, 0.24], [37.4, 0.23],
  [39.2, 0.22], [39.7, 0.32], [40.25, 0.24], [41.4, 0.23], [42.3, 0.17], [44.3, 0.1], [46.9, 0.07], [52.0, 0.06],
  [61.0, 0.04],
];
const exhShake380 = [
  [0.0, 0.0], [20.0, 0.0], [20.75, 0.02], [23.3, 0.04], [24.6, 0.05], [25.1, 0.1], [25.3, 0.12], [25.9, 0.07],
  [27.4, 0.09], [27.9, 0.13], [28.9, 0.11], [30.0, 0.15], [30.7, 0.12], [31.5, 0.15], [33.8, 0.15], [34.4, 0.29],
  [34.7, 0.19], [35.6, 0.15], [39.2, 0.15], [39.7, 0.27], [40.25, 0.19], [41.4, 0.18], [42.3, 0.14], [44.3, 0.09],
  [46.9, 0.06], [61.0, 0.04],
];

const panels = [
  {
    id: 'bsh-shake',
    title: ['BSH2.9- Shaking', 'culture'],
    titleX: 97, titleY: 57,
    box: { l: 62.7, r: 844.3, t: 8.3, b: 225.7 },
    x: [0.2, 61.2], y: [-0.135, 2.61], yTicks: auTicksFine, yMajor: 1,
    tickStart: 2, tickLen: 6, labelDy: 19, minY: 267, clip: 280,
    key: { x: 866, textX: 940, top: 33, step: 18.5 },
    traces: [bshShake254, bshShake280, bshShake320, bshShake350, bshShake380],
  },
  {
    id: 'bsh-static',
    title: ['BSH2.9- Static', 'culture'],
    titleX: 97, titleY: 322,
    box: { l: 61.7, r: 848.7, t: 286, b: 460.3 },
    x: [0.1, 61.05], y: [-0.21, 5.04], yTicks: auTicksWide, yMajor: 2,
    tickStart: 5, tickLen: 8, labelDy: 26.5, minY: 516, clip: 532,
    key: { x: 866, textX: 940, top: 306, step: 16.75 },
    traces: [bshStatic254, bshStatic280, bshStatic320, bshStatic350, bshStatic380],
  },
  {
    id: 'cah-shake',
    title: ['CAH2.9- Shaking', 'culture'],
    titleX: 97, titleY: 588,
    box: { l: 60.3, r: 847.3, t: 543.3, b: 762.3 },
    x: [0.06, 61.07], y: [-0.116, 2.27], yTicks: auTicksMid, yMajor: 1,
    tickStart: 1, tickLen: 7, labelDy: 18.7, minY: 808, clip: 828,
    key: { x: 866, textX: 940, top: 577, step: 16.75 },
    traces: [cahShake254, cahShake280, cahShake320, cahShake350, cahShake380],
  },
  {
    id: 'cah-static',
    title: ['CAH2.11- static culture'],
    titleX: 78, titleY: 870,
    box: { l: 63.3, r: 871.7, t: 838.3, b: 1009 },
    x: [0.02, 61.03], y: [-0.235, 5.25], yTicks: auTicksHalf, yMajor: 2,
    tickStart: 3, tickLen: 6, labelDy: 24.3, minY: 1056, clip: 1068,
    key: { x: 884, textX: 957, top: 855, step: 16.5 },
    traces: [cahStatic254, cahStatic280, cahStatic320, cahStatic350, cahStatic380],
  },
  {
    id: 'exh-shake',
    title: ['EXH1.22- shaking', 'culture'],
    titleX: 97, titleY: 1113,
    box: { l: 62.7, r: 857.3, t: 1070.7, b: 1252.3 },
    x: [0, 61.04], y: [-0.129, 2.69], yTicks: auTicksFine, yMajor: 1,
    tickStart: 1, tickLen: 7, labelDy: 16, minY: 1287, clip: 1297,
    key: { x: 866, textX: 940, top: 1086, step: 16.75 },
    traces: [exhShake254, exhShake280, exhShake320, exhShake350, exhShake380],
  },
];

const axisFont = "'Liberation Sans', Arial, sans-serif";

const toRows = (pts: number[][]) => pts.map(([t, v]) => ({ t, v }));

function MinuteTick(props: any) {
  const { x, y, payload, start, len, labelDy } = props;
  const major = payload.value % 5 === 0;
  return (
    <g>
      <line x1={x} x2={x} y1={y + start} y2={y + start + len + (major ? 2 : 0)} stroke="#555" strokeWidth={1} />
      {major && (
        <text
          transform={`translate(${x},${y + labelDy}) scale(0.72,1)`}
          textAnchor="middle"
          dominantBaseline="central"
          fontFamily={axisFont}
          fontSize={17}
          fill="#333"
        >
          {payload.value.toFixed(2)}
        </text>
      )}
    </g>
  );
}

function AbsTick(props: any) {
  const { x, y, payload, majorStep } = props;
  const v = payload.value;
  const major = Math.abs(v / majorStep - Math.round(v / majorStep)) < 1e-6;
  return (
    <g>
      <line x1={x - (major ? 8 : 4)} x2={x} y1={y} y2={y} stroke="#555" strokeWidth={1} />
      {major && (
        <text
          transform={`translate(${x - 9},${y}) scale(0.72,1)`}
          textAnchor="end"
          dominantBaseline="central"
          fontFamily={axisFont}
          fontSize={17}
          fill="#333"
        >
          {v.toFixed(2)}
        </text>
      )}
    </g>
  );
}

function AxisWord(props: any) {
  const { px, py, turn, word } = props;
  return (
    <text
      transform={`translate(${px},${py})${turn ? ' rotate(-90)' : ''} scale(0.8,1)`}
      textAnchor="middle"
      dominantBaseline="central"
      fontFamily={axisFont}
      fontSize={15}
      fill="#333"
    >
      {word}
    </text>
  );
}

function TraceKey({ cfg }: any) {
  const { key } = cfg;
  return (
    <div>
      {wavelengths.map((w, i) => (
        <div key={w} style={{ height: key.step, display: 'flex', alignItems: 'center' }}>
          <div style={{ width: 44, height: 2.5, background: traceColors[i] }} />
          <div style={{ marginLeft: 9, width: 1, height: 5, background: '#aaa' }} />
          <span
            style={{
              display: 'inline-block',
              marginLeft: key.textX - key.x - 54,
              fontFamily: axisFont,
              fontSize: 13,
              lineHeight: '13px',
              color: '#222',
              whiteSpace: 'nowrap',
              transform: 'scaleX(1.27)',
              transformOrigin: 'left center',
            }}
          >
            {w}
          </span>
        </div>
      ))}
    </div>
  );
}

function Chromatogram({ cfg }: any) {
  const { box } = cfg;
  const top = box.t - 6;
  const height = cfg.clip - top;
  return (
    <div style={{ position: 'absolute', left: 0, top, width: 1016, height }}>
      <LineChart width={1016} height={height} margin={{ top: 6, right: 1016 - box.r, bottom: 0, left: 0 }}>
        <XAxis
          type="number"
          dataKey="t"
          domain={cfg.x}
          allowDataOverflow
          ticks={minuteTicks}
          interval={0}
          tickSize={0}
          tickMargin={0}
          tickLine={false}
          axisLine={false}
          height={cfg.clip - box.b}
          tick={<MinuteTick start={cfg.tickStart} len={cfg.tickLen} labelDy={cfg.labelDy} />}
          label={<AxisWord px={(box.l + box.r) / 2} py={cfg.minY - top} word="min" />}
        />
        <YAxis
          type="number"
          domain={cfg.y}
          allowDataOverflow
          ticks={cfg.yTicks}
          interval={0}
          tickSize={0}
          tickMargin={0}
          tickLine={false}
          axisLine={false}
          width={box.l}
          tick={<AbsTick majorStep={cfg.yMajor} />}
          label={<AxisWord px={18} py={(box.t + box.b) / 2 - top} turn word="AU" />}
        />
        <ReferenceArea
          x1={cfg.x[0]}
          x2={cfg.x[1]}
          y1={cfg.y[0]}
          y2={cfg.y[1]}
          ifOverflow="visible"
          fill="none"
          fillOpacity={0}
          stroke="#555"
          strokeWidth={1}
        />
        {cfg.traces.map((pts: number[][], i: number) => (
          <Line
            key={wavelengths[i]}
            name={wavelengths[i]}
            data={toRows(pts)}
            dataKey="v"
            type="monotone"
            stroke={traceColors[i]}
            strokeWidth={1.3}
            dot={false}
            activeDot={false}
            isAnimationActive={false}
          />
        ))}
        <Legend
          layout="horizontal"
          align="center"
          verticalAlign="middle"
          wrapperStyle={{ left: cfg.key.x, top: cfg.key.top - top - cfg.key.step / 2, width: 150 }}
          content={() => <TraceKey cfg={cfg} />}
        />
      </LineChart>
      <div
        style={{
          position: 'absolute',
          left: cfg.titleX,
          top: cfg.titleY - top - 18.5,
          fontFamily: 'Lato, sans-serif',
          fontSize: 24,
          lineHeight: '37px',
          color: '#111',
          whiteSpace: 'nowrap',
        }}
      >
        {cfg.title.map((line: string) => (
          <div key={line}>{line}</div>
        ))}
      </div>
    </div>
  );
}

export default function App() {
  return (
    <div style={{ position: 'absolute', left: 0, top: 0, width: 1016, height: 1297, background: '#fff', overflow: 'hidden' }}>
      {panels.map((p) => (
        <Chromatogram key={p.id} cfg={p} />
      ))}
    </div>
  );
}
